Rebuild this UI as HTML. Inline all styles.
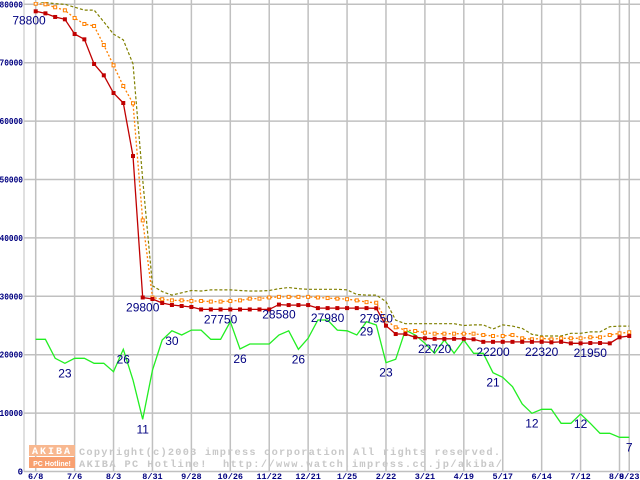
<!DOCTYPE html>
<html><head><meta charset="utf-8"><style>
html,body{margin:0;padding:0;background:#fff;width:640px;height:480px;overflow:hidden}
svg{display:block}
</style></head><body>
<svg id="chart" width="640" height="480" xmlns="http://www.w3.org/2000/svg">
<g id="grid"></g>
<g id="axes"></g>
<g id="watermark">
<rect x="29" y="445" width="46" height="11" fill="#f8b890"/>
<text x="52" y="454" font-family="Liberation Mono, monospace" font-size="10" font-weight="bold" fill="#fff" text-anchor="middle" letter-spacing="2">AKIBA</text>
<rect x="29" y="457" width="46" height="11" fill="#f8a070"/>
<text x="52" y="466" font-family="Liberation Sans, sans-serif" font-size="7" font-weight="bold" fill="#fff" text-anchor="middle">PC Hotline!</text>
<text x="79" y="455" font-family="Liberation Mono, monospace" font-size="10.3" font-weight="bold" fill="#c8c8c8" textLength="421" lengthAdjust="spacing">Copyright(c)2003 impress corporation All rights reserved.</text>
<text x="79" y="467" font-family="Liberation Mono, monospace" font-size="10.3" font-weight="bold" fill="#c8c8c8" textLength="423" lengthAdjust="spacing" xml:space="preserve">AKIBA PC Hotline!  http://www.watch.impress.co.jp/akiba/</text>
</g>
<g id="series"></g>
<g id="labels"></g>
</svg>
<script>
const xTickLabels = ["6/8","7/6","8/3","8/31","9/28","10/26","11/22","12/21","1/25","2/22","3/21","4/19","5/17","6/14","7/12","8/9","8/23"];
const xTickIndex = [0,4,8,12,16,20,24,28,32,36,40,44,48,52,56,60,61];
const yTicks = [0,10000,20000,30000,40000,50000,60000,70000,80000];
const priceMin = [78800,78450,77830,77430,74910,74000,69780,67840,64810,63100,54020,29800,29540,28850,28510,28340,28170,27750,27750,27750,27750,27750,27750,27750,27750,28580,28500,28500,28500,27980,27980,27980,27980,27980,27980,27950,24970,23540,23540,22980,22810,22720,22720,22720,22720,22640,22200,22200,22200,22200,22200,22200,22200,22120,22200,21950,21950,22000,22000,21950,22980,23200];
const priceAvg = [80100,80000,79490,78970,77650,76630,76280,73030,69550,66010,63050,43000,29800,29500,29300,29300,29200,29200,29100,29100,29200,29300,29600,29600,29800,29900,29900,29900,29900,29800,29700,29600,29500,29300,29000,28900,25900,24690,24230,24060,23770,23600,23600,23600,23600,23600,23370,23200,23200,23370,22810,22640,22810,22640,22810,22810,22810,22980,22980,23370,23660,23840];
const priceMax = [80500,80300,80100,80000,79500,79000,79000,77000,74900,73900,69800,50000,31800,30800,30200,30600,31000,30900,31100,31100,31100,31000,30900,30900,31000,31300,31500,31300,31200,31200,31200,31200,31100,30300,30200,30200,29100,25900,25300,25300,25300,25300,25300,25300,25000,25100,25100,24400,25100,24900,24500,23500,23200,23200,23200,23660,23660,23900,23900,24800,24900,24900];
const shopCount = [22630,22630,19380,18520,19380,19380,18520,18520,17090,20920,15660,8940,17380,22510,24100,23370,24220,24220,22630,22630,25650,20970,21830,21830,21830,23370,24100,20920,22800,25940,25940,24220,24100,23370,25650,25080,18630,19210,24220,23370,21950,20240,22510,20240,22510,20240,20240,16910,16130,14520,11560,9960,10650,10650,8250,8250,9840,8250,6540,6540,5860,5860];
const priceLabelIdx = [0,11,19,25,30,35,41,47,52,57];
const priceLabelText = ["78800","29800","27750","28580","27980","27950","22720","22200","22320","21950"];
const countLabelIdx = [3,9,11,14,21,27,34,36,47,51,56,61];
const countLabelText = ["23","26","11","30","26","26","29","23","21","12","12","7"];

const NS="http://www.w3.org/2000/svg";
function X(i){return 35.7+i*9.73;}
function Y(v){return 471.5-v*0.00584;}
function mk(tag,attrs,parent){const e=document.createElementNS(NS,tag);for(const k in attrs)e.setAttribute(k,attrs[k]);parent.appendChild(e);return e;}
const grid=document.getElementById('grid'),axes=document.getElementById('axes'),series=document.getElementById('series'),labels=document.getElementById('labels');
const defs=mk('clipPath',{id:'clip'},document.getElementById('chart'));
mk('rect',{x:0,y:2,width:640,height:478},defs);
series.setAttribute('clip-path','url(#clip)');

yTicks.forEach(v=>{
  const l=mk('line',{x1:24,x2:640,y1:Y(v),y2:Y(v),stroke:'#c0c0c0','stroke-width':1.5},grid);
  
  
  const s=String(v);
  const attrs={x:23,y:Y(v)+3,'text-anchor':'end','font-family':'Liberation Mono, monospace','font-size':'9','font-weight':'bold',fill:'#000080'};
  if(s.length>1){attrs.textLength=s.length*4.7;attrs.lengthAdjust='spacingAndGlyphs';}
  const t=mk('text',attrs,axes);
  t.textContent=s;
  
  
});
xTickIndex.forEach((idx,k)=>{
  const l=mk('line',{x1:X(idx),x2:X(idx),y1:0,y2:472,stroke:'#c0c0c0','stroke-width':1.5},grid);
  
  
  const t=mk('text',{x:X(idx)+(k===15?-3:0),y:479,'text-anchor':'middle','font-family':'Liberation Mono, monospace','font-size':'8.5','font-weight':'bold',fill:'#000080'},axes);
  t.textContent=xTickLabels[k];
  
  
});
const yAxis=mk('line',{x1:24,x2:24,y1:0,y2:472,stroke:'#c0c0c0','stroke-width':1},axes);



function pts(arr){return arr.map((v,i)=>X(i).toFixed(1)+','+Y(v).toFixed(1)).join(' ');}
const g1=mk('polyline',{points:pts(shopCount),fill:'none',stroke:'#22ee22','stroke-width':1.3},series);


const o1=mk('polyline',{points:pts(priceMax),fill:'none',stroke:'#808000','stroke-width':1.2,'stroke-dasharray':'3,2'},series);


const a1=mk('polyline',{points:pts(priceAvg),fill:'none',stroke:'#ff8000','stroke-width':1.3,'stroke-dasharray':'2,2'},series);


priceAvg.forEach((v,i)=>{
  const r=mk('rect',{x:X(i)-1.5,y:Y(v)-1.5,width:3,height:3,fill:'#fff',stroke:'#ff8000','stroke-width':1},series);
  
  
});
const r1=mk('polyline',{points:pts(priceMin),fill:'none',stroke:'#c00000','stroke-width':1.3},series);


priceMin.forEach((v,i)=>{
  const r=mk('rect',{x:X(i)-2,y:Y(v)-2,width:4,height:4,fill:'#c00000'},series);
  
  
});
priceLabelIdx.forEach((idx,k)=>{
  const x=k===0?29:X(idx);
  const t=mk('text',{x:x,y:Y(priceMin[idx])+(k===0?13:14),'text-anchor':'middle','font-family':'Liberation Sans, sans-serif','font-size':'12',fill:'#000080'},labels);
  t.textContent=priceLabelText[k];
  
  
});
countLabelIdx.forEach((idx,k)=>{
  const t=mk('text',{x:X(idx),y:Y(shopCount[idx])+14,'text-anchor':'middle','font-family':'Liberation Sans, sans-serif','font-size':'12',fill:'#000080'},labels);
  t.textContent=countLabelText[k];
  
  
});
</script>
</body></html>
